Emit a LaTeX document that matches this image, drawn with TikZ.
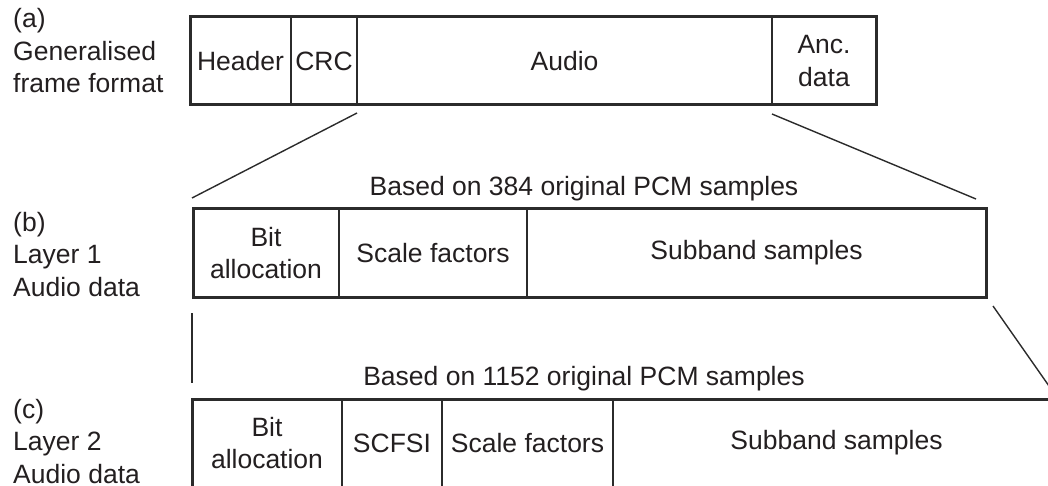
\documentclass[tikz,border=0pt]{standalone}
\usepackage{fontspec}
\setmainfont{Liberation Sans}
\usetikzlibrary{calc}
\definecolor{ink}{HTML}{231F20}
\definecolor{rulegray}{HTML}{2B2B2B}

\begin{document}
\begin{tikzpicture}[x=1pt,y=-1pt,
  every node/.style={text=ink, font=\fontsize{26.5}{32.5}\selectfont},
  cell/.style={draw=rulegray, line width=1.4pt, anchor=north west, inner sep=0pt,
               outer sep=0pt, minimum height=88pt, align=center},
  outline/.style={draw=rulegray, line width=3pt},
  zoomline/.style={draw=rulegray, line width=1.4pt},
  sidelabel/.style={anchor=base west, align=left, inner sep=0pt},
  heading/.style={anchor=base, inner sep=0pt}]

\useasboundingbox (0,0) rectangle (1048,486);
\clip (0,0) rectangle (1048,486);

% (a) generalised frame
\node[cell, minimum width=101pt] (hdr) at (190,17) {Header};
\node[cell, minimum width=66pt]  (crc) at (291,17) {CRC};
\node[cell, minimum width=415pt] (aud) at (357,17) {Audio};
\node[cell, minimum width=104pt] (anc) at (772,17) {Anc.\\data};
\draw[outline] (hdr.north west) rectangle (anc.south east);

% (b) layer 1 audio data
\node[cell, minimum width=146pt] (ba1) at (193,209) {Bit\\allocation};
\node[cell, minimum width=188pt] (sf1) at (339,209) {Scale factors};
\node[cell, minimum width=459pt] (sb1) at (527,209) {Subband samples};
\draw[outline] (ba1.north west) rectangle (sb1.south east);

% (c) layer 2 audio data
\node[cell, minimum width=150pt] (ba2) at (192,399) {Bit\\allocation};
\node[cell, minimum width=100pt] (scf) at (342,399) {SCFSI};
\node[cell, minimum width=171pt] (sf2) at (442,399) {Scale factors};
\node[cell, minimum width=447pt] (sb2) at (613,399) {Subband samples};
\draw[outline] (ba2.north west) rectangle (sb2.south east);

% side labels (anchored on the baseline of their last line)
\node[sidelabel] (lbla) at (13,93)    {(a)\\Generalised\\frame format};
\node[sidelabel] (lblb) at (13,296)   {(b)\\Layer 1\\Audio data};
\node[sidelabel] (lblc) at (13,483)   {(c)\\Layer 2\\Audio data};

% headings
\node[heading] (t1) at (584,196) {Based on 384 original PCM samples};
\node[heading] (t2) at (584,385) {Based on 1152 original PCM samples};

% expansion lines
\draw[zoomline] ([yshift=-8pt]crc.south east) -- ([xshift=-1pt,yshift=11pt]ba1.north west);
\draw[zoomline] ([yshift=-9pt]anc.south west) -- ([xshift=-10pt,yshift=10pt]sb1.north east);
\draw[zoomline] ([xshift=-1pt,yshift=-16pt]ba1.south west) -- ([yshift=16pt]ba2.north west);
\draw[zoomline] ([xshift=7pt,yshift=-9pt]sb1.south east) -- ([xshift=-4pt,yshift=3pt]sb2.north east);
\end{tikzpicture}
\end{document}
